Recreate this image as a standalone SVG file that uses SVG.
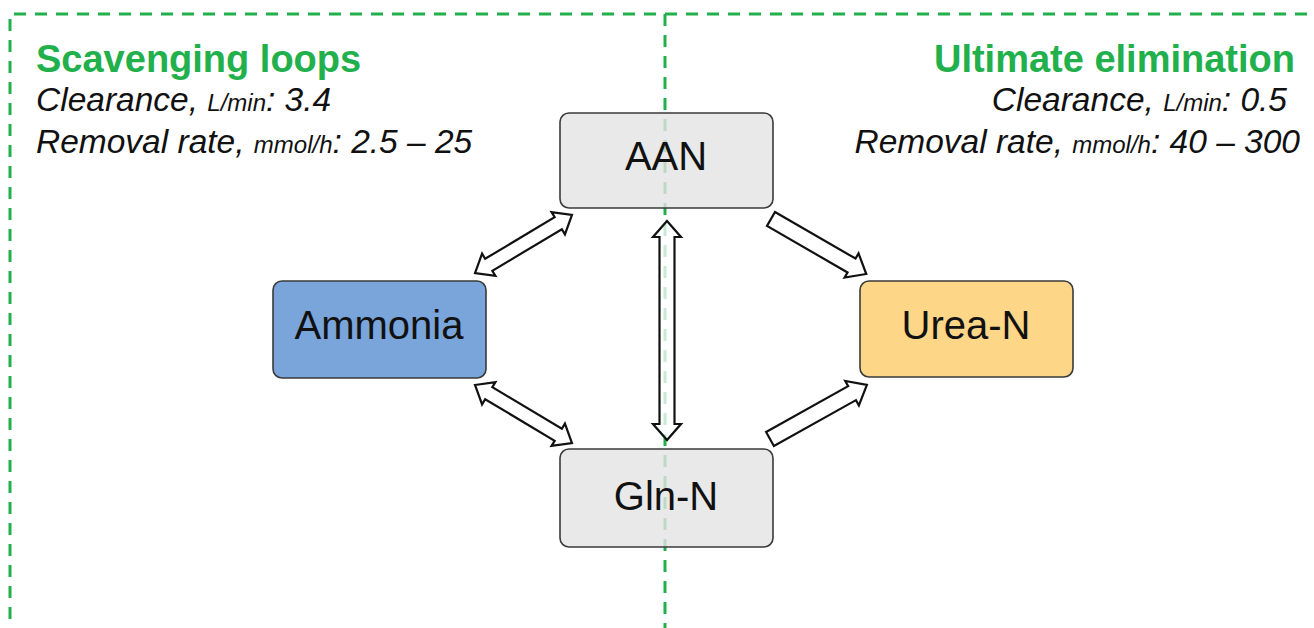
<svg xmlns="http://www.w3.org/2000/svg" width="1314" height="628" viewBox="0 0 1314 628">
<style>
.frame{fill:none;stroke:#21b04b;stroke-width:3;stroke-dasharray:12 9}
.box{stroke:#3a3a3a;stroke-width:1.6;fill-opacity:0.8}
.lbl{font-family:"Liberation Sans",Arial,sans-serif;font-size:40px;fill:#111;text-anchor:middle}
.title{font-family:"Liberation Sans",Arial,sans-serif;font-weight:bold;font-size:38px;fill:#21b04b}
.info{font-family:"Liberation Sans",Arial,sans-serif;font-style:italic;font-size:33.5px;fill:#111}
.sm{font-size:24px}
.arr{fill:#fff;stroke:#111;stroke-width:2.2;stroke-linejoin:miter}
</style>
<rect width="1314" height="628" fill="#fff"/>
<g id="frame">
<path class="frame" d="M10,640 V14 H1330"/>
<path class="frame" d="M665,14 V640"/>
</g>
<g id="headers">
<text class="title" x="36" y="72">Scavenging loops</text>
<text class="info" x="36" y="111">Clearance, <tspan class="sm">L/min</tspan>: 3.4</text>
<text class="info" x="36" y="153">Removal rate, <tspan class="sm">mmol/h</tspan>: 2.5 – 25</text>
<text class="title" x="1295" y="72" text-anchor="end">Ultimate elimination</text>
<text class="info" x="1287" y="111" text-anchor="end">Clearance, <tspan class="sm">L/min</tspan>: 0.5</text>
<text class="info" x="1300" y="153" text-anchor="end">Removal rate, <tspan class="sm">mmol/h</tspan>: 40 – 300</text>
</g>
<g id="connectors">
<path class="arr" transform="translate(523.5,244) rotate(-30.9)" d="M-56.5,0 L-40.5,-13 L-40.5,-7 L40.5,-7 L40.5,-13 L56.5,0 L40.5,13 L40.5,7 L-40.5,7 L-40.5,13 Z"/>
<path class="arr" transform="translate(523.5,414) rotate(30.9)" d="M-56.5,0 L-40.5,-13 L-40.5,-7 L40.5,-7 L40.5,-13 L56.5,0 L40.5,13 L40.5,7 L-40.5,7 L-40.5,13 Z"/>
<path class="arr" style="fill-opacity:0.75" transform="translate(667,330.5) rotate(90)" d="M-109.5,0 L-93.5,-14 L-93.5,-7.5 L93.5,-7.5 L93.5,-14 L109.5,0 L93.5,14 L93.5,7.5 L-93.5,7.5 L-93.5,14 Z"/>
<path class="arr" transform="translate(771,219) rotate(30)" d="M0,-8 L93,-8 L93,-14 L110,0 L93,14 L93,8 L0,8 Z"/>
<path class="arr" transform="translate(770,439) rotate(-29.2)" d="M0,-8 L94,-8 L94,-14 L111,0 L94,14 L94,8 L0,8 Z"/>
</g>
<g id="node-aan">
<rect class="box" x="560" y="113" width="213" height="95" rx="9" fill="#e3e3e3"/>
<text class="lbl" x="666" y="170">AAN</text>
</g>
<g id="node-ammonia">
<rect class="box" x="273" y="281" width="213" height="97" rx="9" fill="#6a9bd6" style="fill-opacity:0.9"/>
<text class="lbl" x="379" y="339">Ammonia</text>
</g>
<g id="node-urea">
<rect class="box" x="860" y="281" width="213" height="96" rx="9" fill="#fdd27a" style="fill-opacity:0.9"/>
<text class="lbl" x="966" y="339">Urea-N</text>
</g>
<g id="node-gln">
<rect class="box" x="560" y="449" width="213" height="98" rx="9" fill="#e3e3e3"/>
<text class="lbl" x="666" y="510">Gln-N</text>
</g>
</svg>
